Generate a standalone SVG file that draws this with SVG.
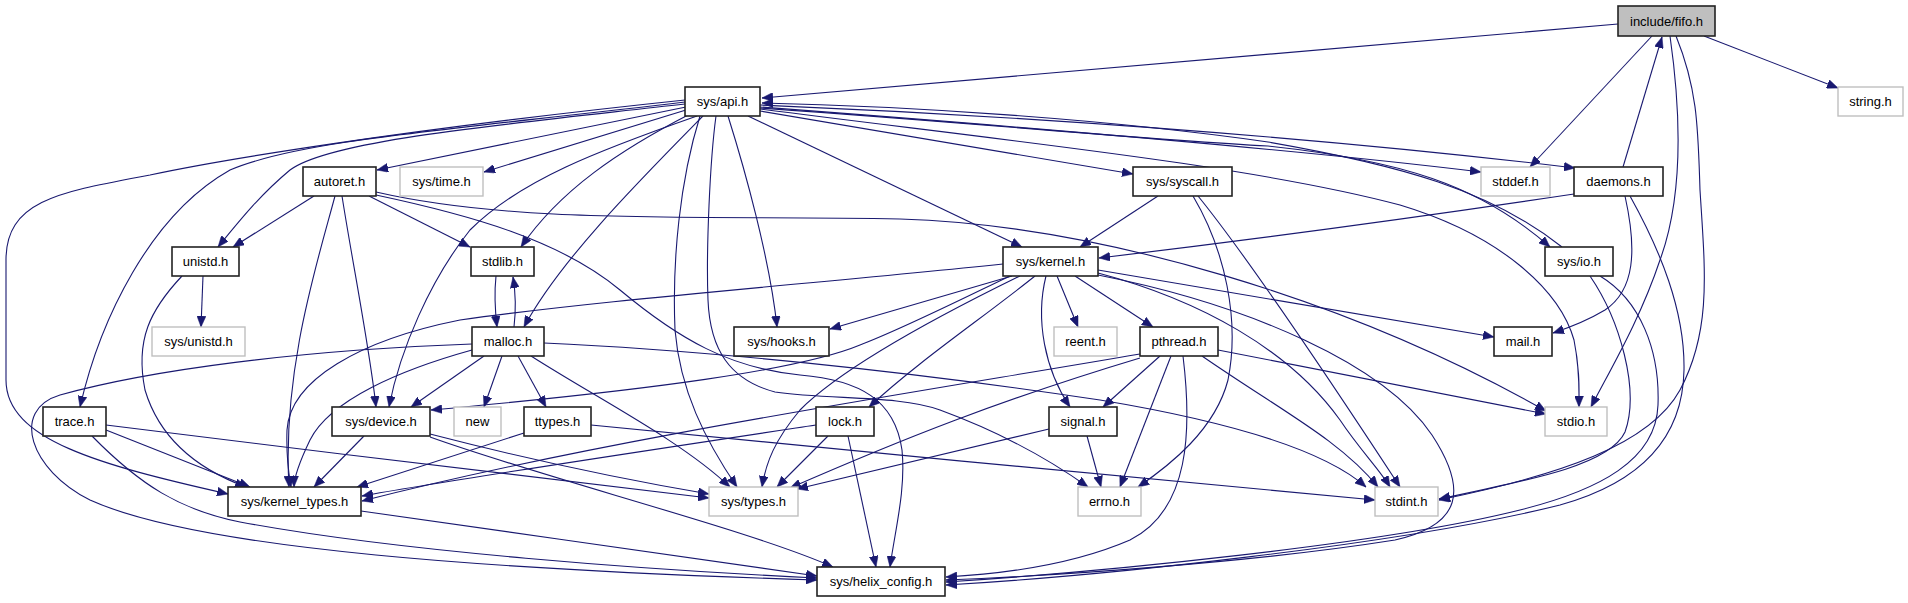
<svg xmlns="http://www.w3.org/2000/svg" width="1908" height="603" viewBox="0 0 1908 603">
<style>
.n rect{fill:#fff;stroke:#222;stroke-width:1.6}
.g rect{fill:#fff;stroke:#bfbfbf;stroke-width:1.4}
.root rect{fill:#bfbfbf;stroke:#222;stroke-width:1.6}
text{font-family:"Liberation Sans",Arial,sans-serif;font-size:13px;text-anchor:middle;fill:#000}
#edges path{fill:none;stroke:#191970;stroke-width:1.1;marker-end:url(#a)}
</style>
<defs>
<marker id="a" viewBox="0 0 11 9" refX="11" refY="4.5" markerWidth="11" markerHeight="9" markerUnits="userSpaceOnUse" orient="auto">
<path d="M0,0 L11,4.5 L0,9 z" fill="#191970" stroke="#191970" stroke-width="0.5"/>
</marker>
</defs>
<rect width="1908" height="603" fill="#fff"/>
<g id="edges">
<path d="M1618,24 L762,98"/>
<path d="M1704,36 L1838,88"/>
<path d="M1652,36 L1530,167"/>
<path d="M1623,167 L1662,37"/>
<path d="M1670,36 C1682,120 1682,200 1660,260 C1640,320 1610,370 1591,407"/>
<path d="M1676,36 C1698,90 1698,130 1700,190 C1705,270 1712,330 1680,390 C1650,445 1560,475 1439,500"/>
<path d="M1590,276 C1620,320 1640,390 1625,432 C1610,465 1530,480 1439,499"/>
<path d="M1600,276 C1640,300 1660,350 1658,405 C1656,460 1600,490 1520,510 C1380,545 1100,572 946,582"/>
<path d="M1630,196 C1660,250 1685,310 1684,370 C1683,430 1650,480 1560,505 C1400,545 1100,576 946,585"/>
<path d="M1098,275 C1250,305 1385,365 1432,435 C1468,490 1462,525 1395,540 C1250,563 1050,576 946,580"/>
<path d="M1183,356 C1192,430 1190,510 1130,540 C1070,566 1000,574 946,577"/>
<path d="M1562,247 C1490,190 1400,165 1268,142 C1100,118 900,106 762,103"/>
<path d="M760,108 C1000,125 1150,140 1268,146 C1400,160 1480,185 1550,247"/>
<path d="M760,105 C1000,115 1300,135 1575,168"/>
<path d="M760,107 C1000,125 1300,150 1481,172"/>
<path d="M760,109 C1000,140 1250,165 1400,205 C1500,235 1560,290 1574,340 C1580,370 1579,390 1579,407"/>
<path d="M760,111 L1133,174"/>
<path d="M748,116 L1022,247"/>
<path d="M728,116 C745,170 770,260 777,327"/>
<path d="M716,116 C710,160 706,250 708,300 C710,350 730,380 775,392 C830,400 900,395 940,410 C1000,432 1050,460 1088,487"/>
<path d="M700,116 C680,180 672,260 675,330 C680,390 705,440 737,487"/>
<path d="M703,116 C640,180 560,260 524,327"/>
<path d="M697,116 C600,150 520,180 470,230 C430,280 400,350 389,407"/>
<path d="M690,114 C620,150 560,190 521,247"/>
<path d="M686,110 L484,172"/>
<path d="M686,107 L377,170"/>
<path d="M685,104 C500,125 330,140 290,170 C260,195 240,220 218,247"/>
<path d="M685,102 C450,130 300,140 230,170 C150,215 100,320 80,407"/>
<path d="M685,100 C400,130 220,160 150,175 C60,192 6,200 6,260 L6,380 C6,440 100,465 228,494"/>
<path d="M314,196 L233,247"/>
<path d="M369,196 L470,247"/>
<path d="M342,196 C352,260 370,350 376,407"/>
<path d="M335,196 C318,260 282,370 289,487"/>
<path d="M376,192 C520,225 700,215 900,219 C1100,225 1350,300 1546,411"/>
<path d="M376,195 C470,215 560,240 620,290 C680,340 730,368 800,375 C860,380 895,400 902,450 C906,490 895,530 890,567"/>
<path d="M203,276 L201,327"/>
<path d="M182,276 C150,310 135,340 145,390 C160,440 200,470 246,487"/>
<path d="M496,276 C494,295 495,310 497,327"/>
<path d="M514,327 C516,310 516,295 513,277"/>
<path d="M484,356 L411,407"/>
<path d="M502,356 L484,407"/>
<path d="M518,356 L546,407"/>
<path d="M472,350 C400,370 330,400 310,440 C298,465 294,478 294,487"/>
<path d="M472,344 C300,350 150,370 60,395 C10,410 30,470 90,500 C200,550 500,570 817,580"/>
<path d="M531,356 C600,400 680,440 730,487"/>
<path d="M544,343 C700,350 900,370 1100,400 C1250,425 1330,455 1366,487"/>
<path d="M106,430 L250,487"/>
<path d="M92,436 C140,485 180,510 240,522 C400,552 650,570 817,578"/>
<path d="M106,425 C300,450 550,478 709,498"/>
<path d="M364,436 L314,487"/>
<path d="M430,434 C550,465 650,484 709,494"/>
<path d="M430,437 C550,480 750,530 833,567"/>
<path d="M524,433 L357,487"/>
<path d="M591,425 C800,445 1200,485 1375,500"/>
<path d="M361,511 C500,530 700,560 817,576"/>
<path d="M816,425 C650,450 450,480 362,496"/>
<path d="M828,436 L777,487"/>
<path d="M848,436 L876,567"/>
<path d="M1010,276 C960,300 900,330 860,345 C800,370 650,390 431,410"/>
<path d="M1003,264 C800,285 600,300 460,320 C360,340 290,380 287,430 C286,460 289,475 291,487"/>
<path d="M1012,276 L830,329"/>
<path d="M1020,276 C930,320 840,370 800,410 C775,440 766,462 762,487"/>
<path d="M1035,276 C980,320 920,360 869,407"/>
<path d="M1046,276 C1035,320 1045,370 1070,407"/>
<path d="M1057,276 L1078,327"/>
<path d="M1075,276 L1153,327"/>
<path d="M1098,270 L1494,337"/>
<path d="M1098,273 C1200,300 1290,350 1340,420 C1360,450 1380,470 1390,487"/>
<path d="M1160,356 L1103,407"/>
<path d="M1171,356 L1120,487"/>
<path d="M1202,356 C1280,410 1340,440 1378,487"/>
<path d="M1218,350 L1546,414"/>
<path d="M1140,354 C900,395 600,440 362,501"/>
<path d="M1140,358 C1000,400 900,440 790,488"/>
<path d="M1087,436 L1101,487"/>
<path d="M1049,429 L797,489"/>
<path d="M1158,196 L1080,247"/>
<path d="M1193,196 C1225,250 1240,320 1228,380 C1215,430 1170,465 1138,487"/>
<path d="M1198,196 C1250,260 1330,380 1400,487"/>
<path d="M1574,194 C1400,220 1250,240 1099,258"/>
<path d="M1625,196 C1637,250 1635,290 1605,310 C1585,322 1568,328 1553,333"/>
</g>
<g id="fifo" class="root"><rect x="1618" y="6" width="97" height="30"/><text x="1666.5" y="26">include/fifo.h</text></g>
<g id="api" class="n"><rect x="685" y="87" width="75" height="29"/><text x="722.5" y="106">sys/api.h</text></g>
<g id="string" class="g"><rect x="1838" y="87" width="65" height="29"/><text x="1870.5" y="106">string.h</text></g>
<g id="autoret" class="n"><rect x="303" y="167" width="73" height="29"/><text x="339.5" y="186">autoret.h</text></g>
<g id="systime" class="g"><rect x="400" y="167" width="83" height="29"/><text x="441.5" y="186">sys/time.h</text></g>
<g id="syscall" class="n"><rect x="1133" y="167" width="99" height="29"/><text x="1182.5" y="186">sys/syscall.h</text></g>
<g id="stddef" class="g"><rect x="1481" y="167" width="69" height="29"/><text x="1515.5" y="186">stddef.h</text></g>
<g id="daemons" class="n"><rect x="1574" y="167" width="89" height="29"/><text x="1618.5" y="186">daemons.h</text></g>
<g id="unistd" class="n"><rect x="172" y="247" width="67" height="29"/><text x="205.5" y="266">unistd.h</text></g>
<g id="stdlib" class="n"><rect x="471" y="247" width="63" height="29"/><text x="502.5" y="266">stdlib.h</text></g>
<g id="kernel" class="n"><rect x="1003" y="247" width="95" height="29"/><text x="1050.5" y="266">sys/kernel.h</text></g>
<g id="io" class="n"><rect x="1545" y="247" width="68" height="29"/><text x="1579" y="266">sys/io.h</text></g>
<g id="sysunistd" class="g"><rect x="152" y="327" width="93" height="29"/><text x="198.5" y="346">sys/unistd.h</text></g>
<g id="malloc" class="n"><rect x="472" y="327" width="72" height="29"/><text x="508" y="346">malloc.h</text></g>
<g id="hooks" class="n"><rect x="734" y="327" width="95" height="29"/><text x="781.5" y="346">sys/hooks.h</text></g>
<g id="reent" class="g"><rect x="1054" y="327" width="63" height="29"/><text x="1085.5" y="346">reent.h</text></g>
<g id="pthread" class="n"><rect x="1140" y="327" width="78" height="29"/><text x="1179" y="346">pthread.h</text></g>
<g id="mail" class="n"><rect x="1494" y="327" width="58" height="29"/><text x="1523" y="346">mail.h</text></g>
<g id="trace" class="n"><rect x="43" y="407" width="63" height="29"/><text x="74.5" y="426">trace.h</text></g>
<g id="device" class="n"><rect x="332" y="407" width="98" height="29"/><text x="381" y="426">sys/device.h</text></g>
<g id="new" class="g"><rect x="454" y="407" width="47" height="29"/><text x="477.5" y="426">new</text></g>
<g id="ttypes" class="n"><rect x="524" y="407" width="67" height="29"/><text x="557.5" y="426">ttypes.h</text></g>
<g id="lock" class="n"><rect x="816" y="407" width="58" height="29"/><text x="845" y="426">lock.h</text></g>
<g id="signal" class="n"><rect x="1049" y="407" width="68" height="29"/><text x="1083" y="426">signal.h</text></g>
<g id="stdio" class="g"><rect x="1545" y="407" width="62" height="29"/><text x="1576" y="426">stdio.h</text></g>
<g id="ktypes" class="n"><rect x="228" y="487" width="133" height="29"/><text x="294.5" y="506">sys/kernel_types.h</text></g>
<g id="systypes" class="g"><rect x="709" y="487" width="89" height="29"/><text x="753.5" y="506">sys/types.h</text></g>
<g id="errno" class="g"><rect x="1078" y="487" width="63" height="29"/><text x="1109.5" y="506">errno.h</text></g>
<g id="stdint" class="g"><rect x="1375" y="487" width="63" height="29"/><text x="1406.5" y="506">stdint.h</text></g>
<g id="helix" class="n"><rect x="817" y="567" width="128" height="29"/><text x="881" y="586">sys/helix_config.h</text></g>
</svg>
